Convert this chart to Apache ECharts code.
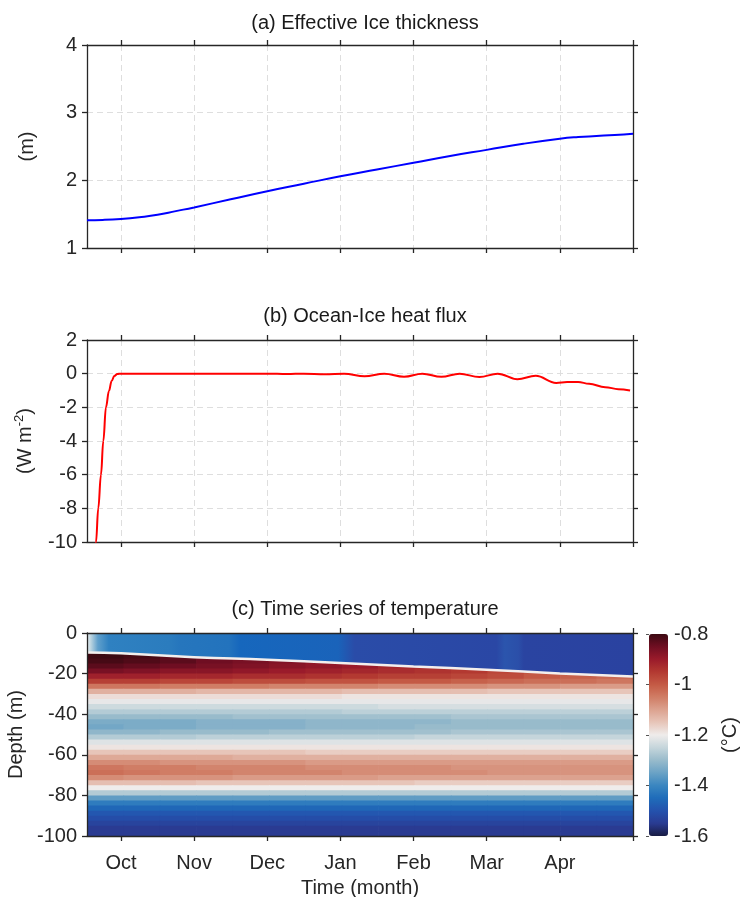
<!DOCTYPE html>
<html><head><meta charset="utf-8">
<script src="https://cdn.jsdelivr.net/npm/echarts@6/dist/echarts.min.js"></script>
<style>html,body{margin:0;padding:0;background:#fff}#c{width:740px;height:897px}</style>
</head><body><div id="c"></div>
<script>
// ---------- data ----------
// time in months since 1 Oct (Oct=0 ... Apr=6, 1 May=7)
const monthLabels = ['Oct','Nov','Dec','Jan','Feb','Mar','Apr'];
const monthLabelPos = [0,1,2,3,4,5,6];
const monthTicks = [0,1,2,3,4,5,6,7];
const timeStart = -0.464;
const timeEnd = 7;

// (a) effective ice thickness (m)
const iceTime = [-0.464,-0.25,0,0.25,0.5,0.75,1,1.5,2,2.5,3,3.5,4,4.5,5,5.5,6,6.25,6.5,6.75,7];
const iceThickness = [1.41,1.415,1.43,1.455,1.49,1.545,1.60,1.72,1.84,1.95,2.06,2.16,2.26,2.36,2.45,2.54,2.615,2.64,2.655,2.67,2.69];

// (b) ocean-ice heat flux (W m-2)
const fluxTime = [-0.36,-0.341,-0.31,-0.273,-0.241,-0.205,-0.164,-0.127,-0.091,-0.05,0,0.5,1,1.5,2,2.27,2.5,2.79,3.05,3.33,3.6,3.87,4.12,4.38,4.63,4.9,5.15,5.42,5.67,5.95,6.1,6.25,6.4,6.62,6.8,6.96];
const heatFlux = [-11,-10,-8,-6,-4,-2,-1.03,-0.43,-0.14,-0.02,0,0,0,0,0,-0.02,0,-0.04,0,-0.16,0,-0.18,0,-0.19,0,-0.2,0,-0.33,-0.13,-0.55,-0.5,-0.49,-0.6,-0.8,-0.92,-1.0];

// (c) mixed layer base (m)
const mixedTime = [-0.464,0,1,2,3,4,5,6,7];
const mixedDepth = [-9.6,-10.0,-11.9,-13.2,-14.8,-16.5,-18.1,-19.9,-21.4];

// (c) temperature field (deg C): columns = time bins, rows = depth bins (top to bottom)
const fieldTimeEdges = [-0.464,0.034,0.531,1.029,1.526,2.024,2.521,3.019,3.516,4.014,4.511,5.009,5.506,6.004,6.501,7.0];
const fieldDepthEdges = [0,-2.5,-5,-7.5,-10,-12.5,-15,-17.5,-20,-22.5,-25,-27.5,-30,-32.5,-35,-37.5,-40,-42.5,-45,-47.5,-50,-52.5,-55,-57.5,-60,-62.5,-65,-67.5,-70,-72.5,-75,-77.5,-80,-82.5,-85,-87.5,-90,-92.5,-95,-97.5,-100];
const temperature = [
 [-1.40,-1.44,-1.44,-1.45,-1.46,-1.47,-1.48,-1.50,-1.51,-1.52,-1.52,-1.53,-1.53,-1.53,-1.53],
 [-1.40,-1.44,-1.44,-1.45,-1.46,-1.47,-1.48,-1.50,-1.51,-1.52,-1.52,-1.53,-1.53,-1.53,-1.53],
 [-1.40,-1.44,-1.44,-1.45,-1.46,-1.47,-1.48,-1.50,-1.51,-1.52,-1.52,-1.53,-1.53,-1.53,-1.53],
 [-0.80,-1.44,-1.44,-1.45,-1.46,-1.47,-1.48,-1.50,-1.51,-1.52,-1.52,-1.53,-1.53,-1.53,-1.53],
 [-0.80,-0.81,-0.83,-0.85,-1.46,-1.47,-1.48,-1.50,-1.51,-1.52,-1.52,-1.53,-1.53,-1.53,-1.53],
 [-0.81,-0.82,-0.83,-0.85,-0.86,-0.87,-0.89,-0.90,-1.51,-1.52,-1.52,-1.53,-1.53,-1.53,-1.53],
 [-0.83,-0.84,-0.85,-0.86,-0.87,-0.88,-0.89,-0.90,-0.92,-0.93,-0.95,-1.53,-1.53,-1.53,-1.53],
 [-0.86,-0.87,-0.88,-0.88,-0.89,-0.90,-0.91,-0.92,-0.93,-0.94,-0.95,-0.97,-0.99,-1.00,-1.53],
 [-0.91,-0.91,-0.92,-0.92,-0.93,-0.93,-0.94,-0.95,-0.96,-0.96,-0.97,-0.98,-1.00,-1.01,-1.02],
 [-0.96,-0.96,-0.97,-0.97,-0.98,-0.98,-0.99,-0.99,-1.00,-1.00,-1.01,-1.02,-1.03,-1.03,-1.04],
 [-1.04,-1.04,-1.05,-1.05,-1.05,-1.06,-1.06,-1.06,-1.07,-1.07,-1.07,-1.08,-1.08,-1.09,-1.09],
 [-1.12,-1.12,-1.12,-1.13,-1.13,-1.13,-1.13,-1.14,-1.14,-1.14,-1.14,-1.15,-1.15,-1.15,-1.15],
 [-1.18,-1.18,-1.18,-1.18,-1.18,-1.18,-1.18,-1.19,-1.19,-1.19,-1.19,-1.19,-1.19,-1.19,-1.19],
 [-1.21,-1.21,-1.21,-1.21,-1.21,-1.21,-1.21,-1.21,-1.21,-1.21,-1.21,-1.21,-1.21,-1.21,-1.21],
 [-1.24,-1.24,-1.24,-1.24,-1.24,-1.24,-1.24,-1.24,-1.23,-1.23,-1.23,-1.23,-1.23,-1.23,-1.23],
 [-1.27,-1.27,-1.27,-1.27,-1.27,-1.27,-1.27,-1.26,-1.26,-1.26,-1.26,-1.26,-1.26,-1.26,-1.26],
 [-1.30,-1.30,-1.30,-1.30,-1.29,-1.29,-1.29,-1.29,-1.29,-1.29,-1.28,-1.28,-1.28,-1.28,-1.28],
 [-1.33,-1.33,-1.33,-1.32,-1.32,-1.32,-1.31,-1.31,-1.31,-1.31,-1.30,-1.30,-1.30,-1.30,-1.30],
 [-1.34,-1.33,-1.33,-1.32,-1.32,-1.32,-1.31,-1.31,-1.31,-1.30,-1.30,-1.30,-1.30,-1.30,-1.30],
 [-1.31,-1.31,-1.30,-1.30,-1.30,-1.29,-1.29,-1.29,-1.29,-1.29,-1.28,-1.28,-1.28,-1.28,-1.28],
 [-1.27,-1.27,-1.27,-1.26,-1.26,-1.26,-1.26,-1.26,-1.26,-1.25,-1.25,-1.25,-1.25,-1.25,-1.25],
 [-1.22,-1.22,-1.22,-1.22,-1.22,-1.22,-1.22,-1.22,-1.22,-1.22,-1.22,-1.22,-1.22,-1.22,-1.22],
 [-1.19,-1.19,-1.19,-1.19,-1.19,-1.19,-1.19,-1.19,-1.19,-1.19,-1.19,-1.19,-1.19,-1.19,-1.19],
 [-1.15,-1.15,-1.15,-1.15,-1.15,-1.15,-1.16,-1.16,-1.16,-1.16,-1.16,-1.16,-1.16,-1.16,-1.16],
 [-1.11,-1.11,-1.11,-1.11,-1.12,-1.12,-1.12,-1.12,-1.12,-1.12,-1.12,-1.12,-1.12,-1.12,-1.12],
 [-1.07,-1.07,-1.08,-1.08,-1.08,-1.08,-1.09,-1.09,-1.09,-1.09,-1.09,-1.09,-1.09,-1.09,-1.09],
 [-1.04,-1.05,-1.05,-1.06,-1.06,-1.06,-1.07,-1.07,-1.07,-1.07,-1.08,-1.08,-1.08,-1.08,-1.08],
 [-1.03,-1.04,-1.05,-1.05,-1.06,-1.06,-1.06,-1.07,-1.07,-1.07,-1.07,-1.08,-1.08,-1.08,-1.08],
 [-1.07,-1.08,-1.08,-1.08,-1.09,-1.09,-1.09,-1.09,-1.10,-1.10,-1.10,-1.10,-1.10,-1.10,-1.10],
 [-1.14,-1.14,-1.14,-1.15,-1.15,-1.15,-1.15,-1.15,-1.15,-1.16,-1.16,-1.16,-1.16,-1.16,-1.16],
 [-1.20,-1.20,-1.20,-1.20,-1.20,-1.20,-1.20,-1.20,-1.20,-1.20,-1.20,-1.20,-1.20,-1.20,-1.20],
 [-1.27,-1.27,-1.27,-1.27,-1.27,-1.27,-1.27,-1.27,-1.27,-1.27,-1.27,-1.27,-1.27,-1.27,-1.27],
 [-1.36,-1.36,-1.36,-1.36,-1.36,-1.36,-1.36,-1.36,-1.36,-1.36,-1.36,-1.36,-1.36,-1.36,-1.36],
 [-1.42,-1.42,-1.42,-1.42,-1.42,-1.42,-1.42,-1.42,-1.42,-1.42,-1.42,-1.42,-1.42,-1.42,-1.42],
 [-1.46,-1.46,-1.46,-1.46,-1.46,-1.46,-1.46,-1.46,-1.46,-1.46,-1.46,-1.46,-1.46,-1.46,-1.46],
 [-1.49,-1.49,-1.49,-1.49,-1.49,-1.49,-1.49,-1.49,-1.49,-1.49,-1.49,-1.49,-1.49,-1.49,-1.49],
 [-1.51,-1.51,-1.51,-1.51,-1.51,-1.51,-1.51,-1.51,-1.51,-1.51,-1.51,-1.51,-1.51,-1.51,-1.51],
 [-1.53,-1.53,-1.53,-1.53,-1.53,-1.53,-1.53,-1.53,-1.53,-1.53,-1.53,-1.53,-1.53,-1.53,-1.53],
 [-1.55,-1.55,-1.55,-1.55,-1.55,-1.55,-1.55,-1.55,-1.55,-1.55,-1.55,-1.55,-1.55,-1.55,-1.55],
 [-1.55,-1.55,-1.55,-1.55,-1.55,-1.55,-1.55,-1.55,-1.55,-1.55,-1.55,-1.55,-1.55,-1.55,-1.55]
];
const colorbarMin = -1.6, colorbarMax = -0.8;

// ---------- styles ----------
const AX = '#262626';
const FONT = '"Liberation Sans", Arial, Helvetica, sans-serif';
const FS = 20;
const balance = ['#181c43','#2a3b92','#2452ad','#1f6cba','#3a86c0','#6aa2c5','#98bbcb','#c5d5db','#efeceb',
                 '#e7c5b9','#dca28f','#d07d65','#c45a45','#b33931','#9a1b2b','#6f0e22','#3c0912'];
const surfaceGradient = {type:'linear',x:0,y:0,x2:1,y2:0,colorStops:[
  {offset:0,color:'#e9eef0'},{offset:0.008,color:'#b4d0de'},{offset:0.02,color:'#5f9fcb'},
  {offset:0.04,color:'#2f81c1'},{offset:0.15,color:'#2b7cbe'},{offset:0.17,color:'#2676bd'},
  {offset:0.26,color:'#2373bd'},{offset:0.28,color:'#1667bd'},{offset:0.46,color:'#1a63ba'},
  {offset:0.49,color:'#2a4ca8'},{offset:0.75,color:'#2a47a5'},{offset:0.765,color:'#2b55ad'},
  {offset:0.79,color:'#2b4fa9'},{offset:0.80,color:'#2a44a1'},{offset:1,color:'#2a42a0'}]};

const PL = 87, PW = 546;
const gbase = {containLabel:false, outerBoundsMode:'none'};
const grids = [
  Object.assign({left:PL, width:PW, top:45, height:203}, gbase),
  Object.assign({left:PL, width:PW, top:340, height:202}, gbase),
  Object.assign({left:PL, width:PW, top:633, height:203}, gbase),
  Object.assign({left:649, width:19, top:634, height:202}, gbase)   // colorbar axis
];

const lineSt = {color:AX, width:1.3};
const gridDash = {show:true, lineStyle:{color:'#dedede', width:1, type:[6,4]}};
const txt = {color:AX, fontSize:FS, fontFamily:FONT};

function xAxes(g, labels, split, z) {
  return [
    {type:'value', gridIndex:g, position:'bottom', min:timeStart, max:timeEnd, z,
     axisLine:{show:true, onZero:false, lineStyle:lineSt},
     axisTick:{show:true, inside:false, length:5, lineStyle:lineSt, customValues:monthTicks},
     axisLabel:{show:labels, customValues:monthLabelPos, margin:17, formatter:v=>monthLabels[Math.round(v)]||'', ...txt},
     splitLine: split ? Object.assign({customValues:monthTicks}, gridDash) : {show:false},
     name: labels ? 'Time (month)' : '', nameLocation:'middle', nameGap:42, nameTextStyle:txt},
    {type:'value', gridIndex:g, position:'top', min:timeStart, max:timeEnd, z,
     axisLine:{show:true, onZero:false, lineStyle:lineSt},
     axisTick:{show:true, inside:false, length:5, lineStyle:lineSt, customValues:monthTicks},
     axisLabel:{show:false}, splitLine:{show:false}}
  ];
}
function yAxes(g, min, max, interval, name, nameGap, split, z, rich) {
  return [
    {type:'value', gridIndex:g, position:'left', min, max, interval, z,
     axisLine:{show:true, onZero:false, lineStyle:lineSt},
     axisTick:{show:true, inside:false, length:5, lineStyle:lineSt},
     axisLabel:{show:true, margin:10, ...txt},
     splitLine: split ? gridDash : {show:false},
     name, nameLocation:'middle', nameGap, nameRotate:90,
     nameTextStyle: Object.assign({}, txt, rich ? {rich} : {})},
    {type:'value', gridIndex:g, position:'right', min, max, interval, z,
     axisLine:{show:true, onZero:false, lineStyle:lineSt},
     axisTick:{show:true, inside:false, length:5, lineStyle:lineSt},
     axisLabel:{show:false}, splitLine:{show:false}}
  ];
}

const xAxis = [].concat(
  xAxes(0,false,true,0), xAxes(1,false,true,0), xAxes(2,true,false,10),
  [{type:'value', gridIndex:3, show:false, min:0, max:1}]
);
const yAxis = [].concat(
  yAxes(0,1,4,1,'(m)',50,true,0),
  yAxes(1,-10,2,2,'{a|(W m}{s|-2}{a|)}',50,true,0,
        {a:{fontSize:FS, fontFamily:FONT, color:AX, lineHeight:24},
         s:{fontSize:13, fontFamily:FONT, color:AX, lineHeight:24, verticalAlign:'top'}}),
  yAxes(2,-100,0,20,'Depth (m)',46,false,10),
  [{type:'value', gridIndex:3, position:'right', min:colorbarMin, max:colorbarMax, interval:0.2, z:10,
    axisLine:{show:false}, axisTick:{show:true, inside:true, length:3, lineStyle:{color:'#555', width:1}},
    axisLabel:{show:true, margin:6, formatter:v=>String(parseFloat(v.toFixed(2))), ...txt},
    splitLine:{show:false},
    name:'(°C)', nameLocation:'middle', nameGap:52, nameRotate:90, nameTextStyle:txt}]
);

// field cells: [time of left edge, depth of top edge, temperature, column, row]
const fieldData = [];
temperature.forEach((row, r) => row.forEach((v, c) =>
  fieldData.push([fieldTimeEdges[c], fieldDepthEdges[r], v, c, r])));

function renderCell(params, api) {
  const c = api.value(3), r = api.value(4);
  const p0 = api.coord([fieldTimeEdges[c], fieldDepthEdges[r]]);
  const p1 = api.coord([fieldTimeEdges[c + 1], fieldDepthEdges[r + 1]]);
  return {type:'rect',
    shape:{x:p0[0], y:p0[1], width:p1[0] - p0[0] + 0.7, height:p1[1] - p0[1] + 0.7},
    style:{fill:api.visual('color')}};
}

const option = {
  animation:false,
  backgroundColor:'#ffffff',
  title:[
    {text:'(a) Effective Ice thickness', left:360, top:8, textAlign:'center', textStyle:{color:'#1a1a1a', fontSize:FS, fontWeight:'normal', fontFamily:FONT}},
    {text:'(b) Ocean-Ice heat flux', left:360, top:301, textAlign:'center', textStyle:{color:'#1a1a1a', fontSize:FS, fontWeight:'normal', fontFamily:FONT}},
    {text:'(c) Time series of temperature', left:360, top:594, textAlign:'center', textStyle:{color:'#1a1a1a', fontSize:FS, fontWeight:'normal', fontFamily:FONT}}
  ],
  grid:grids,
  xAxis, yAxis,
  visualMap:{type:'continuous', seriesIndex:2, dimension:2, min:colorbarMin, max:colorbarMax, show:true,
    orient:'vertical', left:649, top:634, itemWidth:19, itemHeight:202, padding:0,
    calculable:false, hoverLink:false, text:null, inRange:{color:balance}},
  series:[
    {type:'line', xAxisIndex:0, yAxisIndex:0, data:iceTime.map((t,i)=>[t, iceThickness[i]]),
     smooth:true, showSymbol:false, lineStyle:{color:'#0000ff', width:2}, z:3},
    {type:'line', xAxisIndex:2, yAxisIndex:2, data:fluxTime.map((t,i)=>[t, heatFlux[i]]),
     smooth:0.4, smoothMonotone:'x', showSymbol:false, clip:true, lineStyle:{color:'#ff0000', width:2}, z:3},
    {type:'custom', xAxisIndex:4, yAxisIndex:4, data:fieldData, renderItem:renderCell, clip:true, z:1,
     encode:{x:0, y:1}, emphasis:{disabled:true}, silent:true},
    {type:'line', xAxisIndex:4, yAxisIndex:4, data:mixedTime.map((t,i)=>[t, mixedDepth[i]]),
     smooth:true, showSymbol:false, clip:true, z:3,
     lineStyle:{color:'#f3efed', width:2.5},
     areaStyle:{origin:'end', color:surfaceGradient, opacity:1}}
  ]
};
const chart = echarts.init(document.getElementById('c'), null, {renderer:'canvas'});
chart.setOption(option);
</script></body></html>
